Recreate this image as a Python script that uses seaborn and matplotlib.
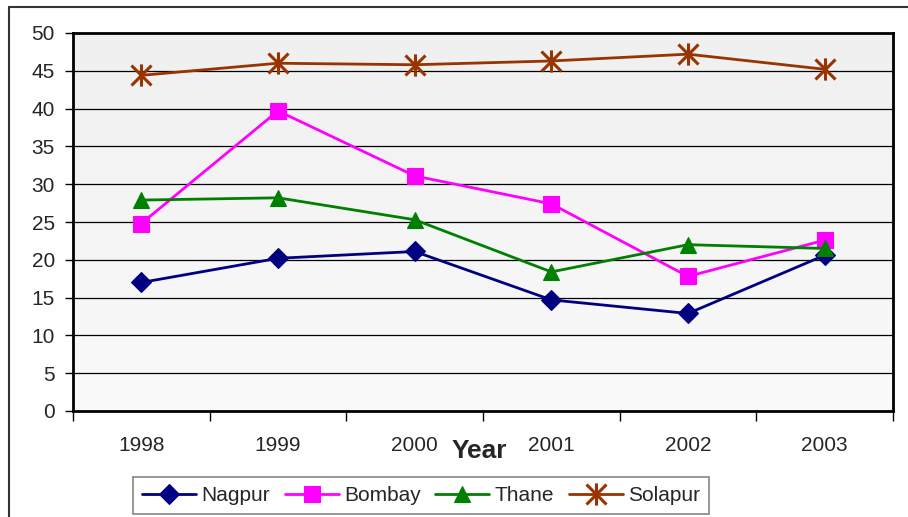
import numpy as np
import pandas as pd
import matplotlib
matplotlib.use("Agg")
import matplotlib.pyplot as plt
import seaborn as sns
from matplotlib.lines import Line2D
from matplotlib.path import Path

years = ["1998", "1999", "2000", "2001", "2002", "2003"]
nagpur = [17.0, 20.2, 21.1, 14.7, 12.9, 20.6]
bombay = [24.8, 39.7, 31.1, 27.4, 17.8, 22.6]
thane = [27.9, 28.2, 25.3, 18.4, 22.0, 21.5]
solapur = [44.4, 46.0, 45.8, 46.3, 47.2, 45.2]
series_names = ["Nagpur", "Bombay", "Thane", "Solapur"]
y_ticks = [0, 5, 10, 15, 20, 25, 30, 35, 40, 45, 50]

sns.set_theme(style="white")
plt.rcParams['font.family'] = ['Liberation Sans', 'DejaVu Sans']

fig = plt.figure(figsize=(9.08, 5.17), dpi=100)
W, H = 908, 517
ax = fig.add_axes([73 / W, 1 - 411 / H, (893 - 73) / W, (411 - 33) / H])

# gradient background
grad = np.linspace(0, 1, 256).reshape(-1, 1)
ax.imshow(grad, extent=[-0.5, 5.5, 0, 50], aspect='auto', origin='upper',
          cmap=matplotlib.colors.LinearSegmentedColormap.from_list("g", ["#f0f0f0", "#fafafa"]),
          zorder=0)

# Excel-style asterisk: X plus vertical bar
star = Path([(-0.9, -0.9), (0.9, 0.9), (-0.9, 0.9), (0.9, -0.9), (0, -1), (0, 1)],
            [Path.MOVETO, Path.LINETO, Path.MOVETO, Path.LINETO, Path.MOVETO, Path.LINETO])

colors = ["#000080", "#ff00ff", "#008000", "#993300"]
markers = ["D", "s", "^", star]
msizes = [10, 12, 12, 16]
data = [nagpur, bombay, thane, solapur]
pos = np.arange(len(years))
handles = []
for name, vals, c, m, ms in zip(series_names, data, colors, markers, msizes):
    mew = 2.2 if m is star else 0.8
    sns.lineplot(x=pos, y=vals, ax=ax, color=c, marker=m, markersize=ms,
                 markeredgecolor=c, markeredgewidth=mew,
                 linewidth=2, zorder=3)
    handles.append(Line2D([0], [0], color=c, marker=m, markersize=ms,
                          markeredgecolor=c, markeredgewidth=mew,
                          linewidth=2, label=name))

ax.set_xlim(-0.5, 5.5)
ax.set_ylim(0, 50)
ax.set_yticks(y_ticks)
ax.set_yticklabels([str(v) for v in y_ticks], fontsize=15)
for y in y_ticks[1:-1]:
    ax.axhline(y, color="#000000", linewidth=0.9, zorder=1)

ax.set_xticks(pos)
ax.set_xticklabels(years, fontsize=15)
ax.set_xticks(np.arange(-0.5, 6.0, 1.0), minor=True)
ax.tick_params(axis='x', which='major', length=0, pad=18)
ax.tick_params(axis='x', which='minor', length=7, width=1, direction='out', color='black', bottom=True)
ax.tick_params(axis='y', which='major', length=6, width=1, direction='out', color='black', left=True, pad=7)
for s in ax.spines.values():
    s.set_color("black")
    s.set_linewidth(2)
ax.set_xlabel("")
ax.set_ylabel("")

fig.text(479 / W, 1 - 451 / H, "Year", fontsize=19, fontweight='bold',
         ha='center', va='center')

leg = fig.legend(handles=handles, loc='center', ncol=4,
                 bbox_to_anchor=(421 / W, 1 - 495.5 / H), frameon=True,
                 fontsize=15, handlelength=2.6, columnspacing=0.7,
                 handletextpad=0.25, borderpad=0.45, borderaxespad=0, fancybox=False)
leg.get_frame().set_edgecolor("#666666")
leg.get_frame().set_linewidth(1.2)

# outer chart frame (partially cut)
fig.add_artist(Line2D([9 / W, 9 / W], [0, 1 - 7 / H], color="#333333", linewidth=1.5, transform=fig.transFigure))
fig.add_artist(Line2D([9 / W, 1], [1 - 7 / H, 1 - 7 / H], color="#333333", linewidth=1.5, transform=fig.transFigure))

fig.savefig("out.png", dpi=100)
